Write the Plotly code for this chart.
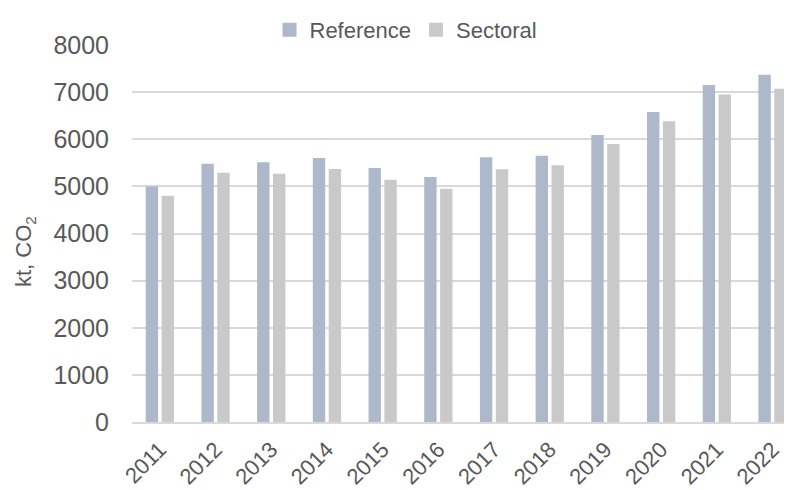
import plotly.graph_objects as go

years = ["2011", "2012", "2013", "2014", "2015", "2016", "2017", "2018", "2019", "2020", "2021", "2022"]
reference = [5000, 5480, 5510, 5600, 5390, 5200, 5620, 5650, 6090, 6580, 7150, 7370]
sectoral = [4800, 5290, 5270, 5370, 5140, 4950, 5365, 5450, 5900, 6380, 6950, 7070]
y_ticks = [0, 1000, 2000, 3000, 4000, 5000, 6000, 7000, 8000]

FONT = "Liberation Sans"
GRAY = "#595959"
C_REF, C_SEC = "#ADB9CA", "#C9C9C9"

fig = go.Figure()
fig.add_trace(go.Bar(x=years, y=reference, name="Reference", showlegend=False,
                     marker=dict(color=C_REF, line=dict(width=0))))
fig.add_trace(go.Bar(x=years, y=sectoral, name="Sectoral", showlegend=False,
                     marker=dict(color=C_SEC, line=dict(width=0))))
# legend entries with larger square swatches
for nm, c in [("Reference", C_REF), ("Sectoral", C_SEC)]:
    fig.add_trace(go.Scatter(x=[None], y=[None], mode="markers", name=nm,
                             marker=dict(symbol="square", size=14, color=c)))

# page body has an 8px margin, so the figure is offset by 8px
OFF = 8
W, H = 792 - OFF, 490 - OFF
L, R, T, B = 132 - OFF, 0, 45 - OFF, 68
pw, ph = W - L - R, H - T - B
cat_w = 55.7
xmax = -0.5 + pw / cat_w

fig.update_layout(
    width=W, height=H,
    margin=dict(l=L, r=R, t=T, b=B, autoexpand=False),
    paper_bgcolor="white", plot_bgcolor="white",
    barmode="group", bargap=0.43, bargroupgap=0.22,
    font=dict(family=FONT, color=GRAY, size=21),
    showlegend=True,
    legend=dict(orientation="h", xref="container", yref="container",
                x=(406 - OFF) / W, y=1 - (30 - OFF) / H, xanchor="center", yanchor="middle",
                font=dict(size=22, color=GRAY), itemsizing="trace", itemwidth=30,
                traceorder="normal", bgcolor="rgba(0,0,0,0)"),
    xaxis=dict(range=[-0.5, xmax], tickangle=-45, showgrid=False, automargin=False,
               showline=True, linecolor="#D9D9D9", linewidth=2,
               tickfont=dict(size=22, color=GRAY), ticks="", ticklabelstandoff=4),
    yaxis=dict(range=[0, 8000], tickvals=y_ticks, showgrid=True, automargin=False,
               gridcolor="#D9D9D9", gridwidth=2, zeroline=False,
               showline=False, ticks="", ticklabelstandoff=22,
               tickfont=dict(size=25, color=GRAY)),
    annotations=[dict(text="kt, CO<sub>2</sub>", textangle=-90,
                      xref="paper", yref="paper",
                      x=(25 - OFF - L) / pw, y=(H - B - (252 - OFF)) / ph,
                      xanchor="center", yanchor="middle", showarrow=False,
                      font=dict(size=22, color=GRAY))],
)

fig.write_html("out.html")
